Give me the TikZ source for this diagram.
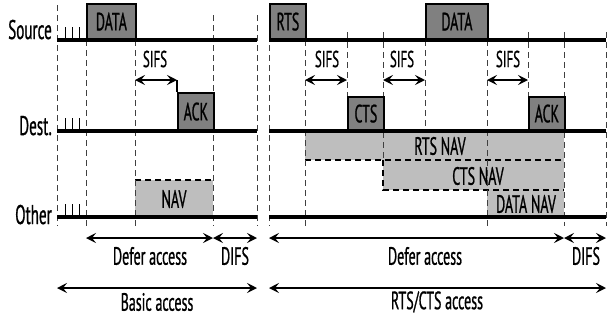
\documentclass[tikz,border=0pt]{standalone}
\usepackage{fontspec}
\setmainfont[FakeStretch=0.56,FakeBold=0.8]{PT Sans}
\usetikzlibrary{arrows.meta}
\definecolor{pktgray}{RGB}{128,128,128}
\definecolor{navgray}{RGB}{190,190,190}
\tikzset{
  sig/.style={line width=3.5pt},
  mark line/.style={dashed,dash pattern=on 6pt off 4pt,line width=0.9pt,gray!50!black},
  pkt/.style={draw,line width=1.8pt,fill=pktgray,inner sep=0pt,anchor=south west,
    font=\fontsize{25}{28}\selectfont},
  nav/.style={fill=navgray,draw=none},
  navedge/.style={dashed,dash pattern=on 6pt off 4pt,line width=1.2pt},
  dim/.style={{Stealth[length=10pt,width=10pt,inset=4pt]}-{Stealth[length=10pt,width=10pt,inset=4pt]},line width=1.6pt},
  lbl/.style={font=\fontsize{25}{28}\selectfont,inner sep=0pt},
  small/.style={font=\fontsize{23}{26}\selectfont,inner sep=0pt},
  side/.style={font=\fontsize{27}{30}\selectfont,inner sep=0pt,anchor=base east}
}
\begin{document}
\begin{tikzpicture}[x=1pt,y=-1pt]
  \useasboundingbox (0,0) rectangle (607,322);
  % time marks
  \coordinate (L0) at (57,0);  \coordinate (L1) at (86,0);  \coordinate (L2) at (135,0);
  \coordinate (L3) at (177,0); \coordinate (L4) at (213,0); \coordinate (L5) at (257,0);
  \coordinate (R0) at (269,0); \coordinate (R1) at (305,0); \coordinate (R2) at (347,0);
  \coordinate (R3) at (383,0); \coordinate (R4) at (425,0); \coordinate (R5) at (487,0);
  \coordinate (R6) at (528,0); \coordinate (R7) at (564,0); \coordinate (R8) at (606,0);
  % NAV areas
  \fill[nav] (L2 |- 0,180) rectangle (L4 |- 0,217);
  \draw[navedge] (L2 |- 0,180) -- (L4 |- 0,180);
  \fill[nav] (R1 |- 0,131) rectangle (R7 |- 0,160);
  \fill[nav] (R3 |- 0,160) rectangle (R7 |- 0,190);
  \fill[nav] (R5 |- 0,190) rectangle (R7 |- 0,217);
  \draw[navedge] (R1 |- 0,160) -- (R7 |- 0,160);
  \draw[navedge] (R3 |- 0,160) -- (R3 |- 0,190) -- (R7 |- 0,190);
  \node[lbl] (nav1) at (174,199) {NAV};
  \node[lbl] (rtsnav) at (440,146) {RTS NAV};
  \node[lbl] (ctsnav) at (478,176) {CTS NAV};
  \node[lbl] (datanav) at (526,204) {DATA NAV};
  % dashed time marks
  \draw[mark line] (L0 |- 0,5) -- (L0 |- 0,226);
  \draw[mark line] (L1 |- 0,40) -- (L1 |- 0,226);
  \draw[mark line] (L2 |- 0,40) -- (L2 |- 0,226);
  \draw[mark line] (L4 |- 0,15) -- (L4 |- 0,226);
  \draw[mark line] (L5 |- 0,15) -- (L5 |- 0,226);
  \draw[mark line] (R0 |- 0,5) -- (R0 |- 0,226);
  \draw[mark line] (R1 |- 0,40) -- (R1 |- 0,226);
  \draw[mark line] (R2 |- 0,32) -- (R2 |- 0,98);
  \draw[mark line] (R3 |- 0,32) -- (R3 |- 0,160);
  \draw[mark line] (R4 |- 0,40) -- (R4 |- 0,131);
  \draw[mark line] (R5 |- 0,40) -- (R5 |- 0,226);
  \draw[mark line] (R6 |- 0,32) -- (R6 |- 0,98);
  \draw[mark line] (R7 |- 0,32) -- (R7 |- 0,226);
  \draw[mark line] (R8 |- 0,32) -- (R8 |- 0,226);
  % stations
  \node[side] (src) at (52,39) {Source};
  \node[side] (dst) at (52,135) {Dest.};
  \node[side] (oth) at (52,224) {Other};
  \foreach \y in {40,131,217} {
    \draw[sig] (L0 |- 0,\y) -- (L5 |- 0,\y);
    \draw[sig] (R0 |- 0,\y) -- (R8 |- 0,\y);
    \foreach \t in {65,72,79}
      \draw[line width=1pt] (\t,\y) -- (\t,\y-13);
  }
  % frames
  \node[pkt,minimum width=49pt,minimum height=35pt] (data1) at (L1 |- 0,40) {DATA};
  \node[pkt,minimum width=36pt,minimum height=37pt] (ack1) at (L3 |- 0,131) {ACK};
  \node[pkt,minimum width=36pt,minimum height=35pt] (rts) at (R0 |- 0,40) {RTS};
  \node[pkt,minimum width=62pt,minimum height=35pt] (data2) at (R4 |- 0,40) {DATA};
  \node[pkt,minimum width=36pt,minimum height=33pt] (cts) at (R2 |- 0,131) {CTS};
  \node[pkt,minimum width=36pt,minimum height=33pt] (ack2) at (R6 |- 0,131) {ACK};
  \draw[line width=1.5pt] (L3 |- 0,80) -- (ack1.north west);
  % SIFS
  \draw[dim] (L2 |- 0,80) -- (L3 |- 0,80);
  \node[small] (sifs1) at (155,59) {SIFS};
  \draw[dim] (R1 |- 0,80) -- (R2 |- 0,80);
  \node[small] (sifs2) at (327,59) {SIFS};
  \draw[dim] (R3 |- 0,80) -- (R4 |- 0,80);
  \node[small] (sifs3) at (402,59) {SIFS};
  \draw[dim] (R5 |- 0,80) -- (R6 |- 0,80);
  \node[small] (sifs4) at (508,59) {SIFS};
  % access periods
  \draw[dim] (L1 |- 0,238) -- (L4 |- 0,238);
  \draw[dim] (L4 |- 0,238) -- (L5 |- 0,238);
  \node[lbl] (defer1) at (150,256) {Defer access};
  \node[lbl] (difs1) at (235,256) {DIFS};
  \draw[dim] (L0 |- 0,288) -- (L5 |- 0,288);
  \node[lbl] (basic) at (157,302) {Basic access};
  \draw[dim] (R0 |- 0,238) -- (R7 |- 0,238);
  \draw[dim] (R7 |- 0,238) -- (R8 |- 0,238);
  \node[lbl] (defer2) at (425,256) {Defer access};
  \node[lbl] (difs2) at (586,256) {DIFS};
  \draw[dim] (R0 |- 0,288) -- (R8 |- 0,288);
  \node[lbl] (rtscts) at (437,302) {RTS/CTS access};
\end{tikzpicture}
\end{document}
